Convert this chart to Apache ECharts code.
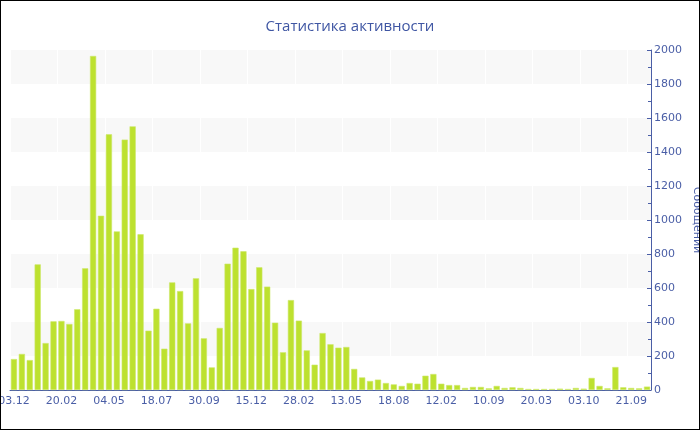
<!DOCTYPE html>
<html>
<head>
<meta charset="utf-8">
<script src="https://cdn.jsdelivr.net/npm/echarts@6/dist/echarts.min.js"></script>
<style>
html,body{margin:0;padding:0;background:#fff;}
#wrap{position:relative;width:700px;height:430px;}
#c{width:700px;height:430px;}
#frame{position:absolute;left:0;top:0;width:700px;height:430px;box-sizing:border-box;border:1px solid #000;pointer-events:none;}
</style>
</head>
<body>
<div id="wrap"><div id="c"></div><div id="frame"></div></div>
<script>
var titleText = 'Статистика активности';
var axisName = 'Сообщений';
var tickLabels = ['03.12','20.02','04.05','18.07','30.09','15.12','28.02','13.05','18.08','12.02','10.09','20.03','03.10','21.09'];
var values = [
  182, 212, 176, 739, 276, 404, 406, 388, 475, 716,
  1965, 1025, 1504, 933, 1473, 1551, 916, 349, 478, 243,
  633, 582, 392, 657, 304, 133, 365, 743, 837, 816,
  594, 722, 608, 396, 222, 529, 408, 233, 149, 335,
  269, 249, 253, 124, 74, 53, 61, 41, 33, 24,
  41, 37, 84, 94, 37, 29, 29, 12, 18, 18,
  10, 24, 12, 16, 12, 6, 6, 6, 6, 8,
  6, 12, 8, 71, 24, 10, 135, 16, 12, 10,
  20
];
var labelEvery = 6;
var categories = values.map(function (v, i) {
  return i % labelEvery === 0 ? tickLabels[i / labelEvery] : '';
});

var blue = '#4a5ea6';
var chart = echarts.init(document.getElementById('c'));
chart.setOption({
  animation: false,
  title: {
    text: titleText,
    left: 'center',
    top: 14,
    textStyle: { color: '#3f56a3', fontSize: 15, fontWeight: 'normal', fontFamily: 'Open Sans' }
  },
  grid: { left: 10, right: 49, top: 50, bottom: 40, containLabel: false, outerBoundsMode: 'none' },
  xAxis: {
    type: 'category',
    data: categories,
    boundaryGap: true,
    axisLine: { lineStyle: { color: blue, width: 1 } },
    axisTick: { alignWithLabel: true, interval: labelEvery - 1, length: 3, lineStyle: { color: blue } },
    axisLabel: { interval: labelEvery - 1, color: blue, fontSize: 11, fontFamily: 'DejaVu Sans', margin: 6, hideOverlap: false },
    splitLine: { show: true, interval: labelEvery - 1, lineStyle: { color: '#ffffff', width: 1 } }
  },
  yAxis: {
    type: 'value',
    position: 'right',
    min: 0,
    max: 2000,
    interval: 200,
    name: axisName,
    nameLocation: 'middle',
    nameRotate: -90,
    nameGap: 40,
    nameMoveOverlap: false,
    nameTextStyle: { color: blue, fontSize: 11, fontFamily: 'DejaVu Sans' },
    axisLine: { show: true, lineStyle: { color: blue, width: 1 } },
    axisTick: { show: true, inside: true, length: 4, lineStyle: { color: blue } },
    minorTick: { show: true, splitNumber: 2, length: 3, lineStyle: { color: blue } },
    axisLabel: { color: blue, fontSize: 11, fontFamily: 'DejaVu Sans', margin: 3, formatter: function (v) { return String(v); } },
    splitLine: { show: false },
    splitArea: { show: true, areaStyle: { color: ['rgba(255,255,255,0)', '#f8f8f8'] } }
  },
  series: [{
    type: 'bar',
    data: values,
    barCategoryGap: '22%',
    itemStyle: { color: '#bde12f', borderColor: '#cde86a', borderWidth: 0.6 }
  }]
});
</script>
</body>
</html>
